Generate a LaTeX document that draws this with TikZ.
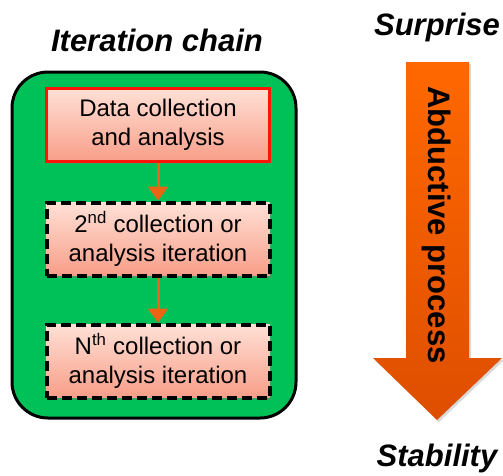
\documentclass[tikz,border=0pt]{standalone}
\usepackage{fontspec}
\setmainfont{Liberation Sans}
\usepackage{xcolor}
\usetikzlibrary{arrows.meta,shadows}

\definecolor{chaingreen}{RGB}{0,193,88}
\definecolor{stepred}{RGB}{255,20,10}
\definecolor{flowor}{RGB}{235,100,20}
\definecolor{pinktop}{RGB}{255,224,214}
\definecolor{pinkbot}{RGB}{248,158,136}
\definecolor{abdtop}{RGB}{255,104,0}
\definecolor{abdbot}{RGB}{222,78,0}

\begin{document}
\begin{tikzpicture}[x=1pt,y=-1pt,
  title/.style={font=\fontsize{31}{36}\selectfont\bfseries\itshape},
  stepbox/.style={minimum width=223pt, minimum height=73pt, align=center,
    top color=pinktop, bottom color=pinkbot,
    font=\fontsize{24}{29}\selectfont,
    drop shadow={opacity=0.35, shadow xshift=2pt, shadow yshift=-2pt}},
  iterbox/.style={stepbox, draw=black, line width=4pt, dash pattern=on 10pt off 5pt},
  flow/.style={draw=flowor, line width=3pt, -{Triangle[width=20pt,length=14pt]}}]
  \useasboundingbox (0,0) rectangle (503,475);
  \node[title] (chaintitle) at (157,40) {Iteration chain};
  \draw[fill=chaingreen, line width=3pt, rounded corners=36pt] (12,72) rectangle (296,418);
  \node[stepbox, draw=stepred, line width=3.5pt] (data) at (158,125) {Data collection\\and analysis};
  \node[iterbox] (second) at (158,239) {2\textsuperscript{nd} collection or\\analysis iteration};
  \node[iterbox] (nth) at (158,361) {N\textsuperscript{th} collection or\\analysis iteration};
  \draw[flow] (data) -- (second);
  \draw[flow] (second) -- (nth);
  \node[title] (surprise) at (437,27) {Surprise};
  \node[title] (stability) at (437,458) {Stability};
  \shade[top color=abdtop, bottom color=abdbot,
    drop shadow={opacity=0.3, shadow xshift=2pt, shadow yshift=-2pt}]
    (406,62) -- (469,62) -- (469,358) -- (502,358) -- (437,420)
    -- (373,358) -- (406,358) -- cycle;
  \node[rotate=-90, font=\fontsize{31}{36}\selectfont\bfseries] (abductive) at (437,225) {Abductive process};
\end{tikzpicture}
\end{document}
